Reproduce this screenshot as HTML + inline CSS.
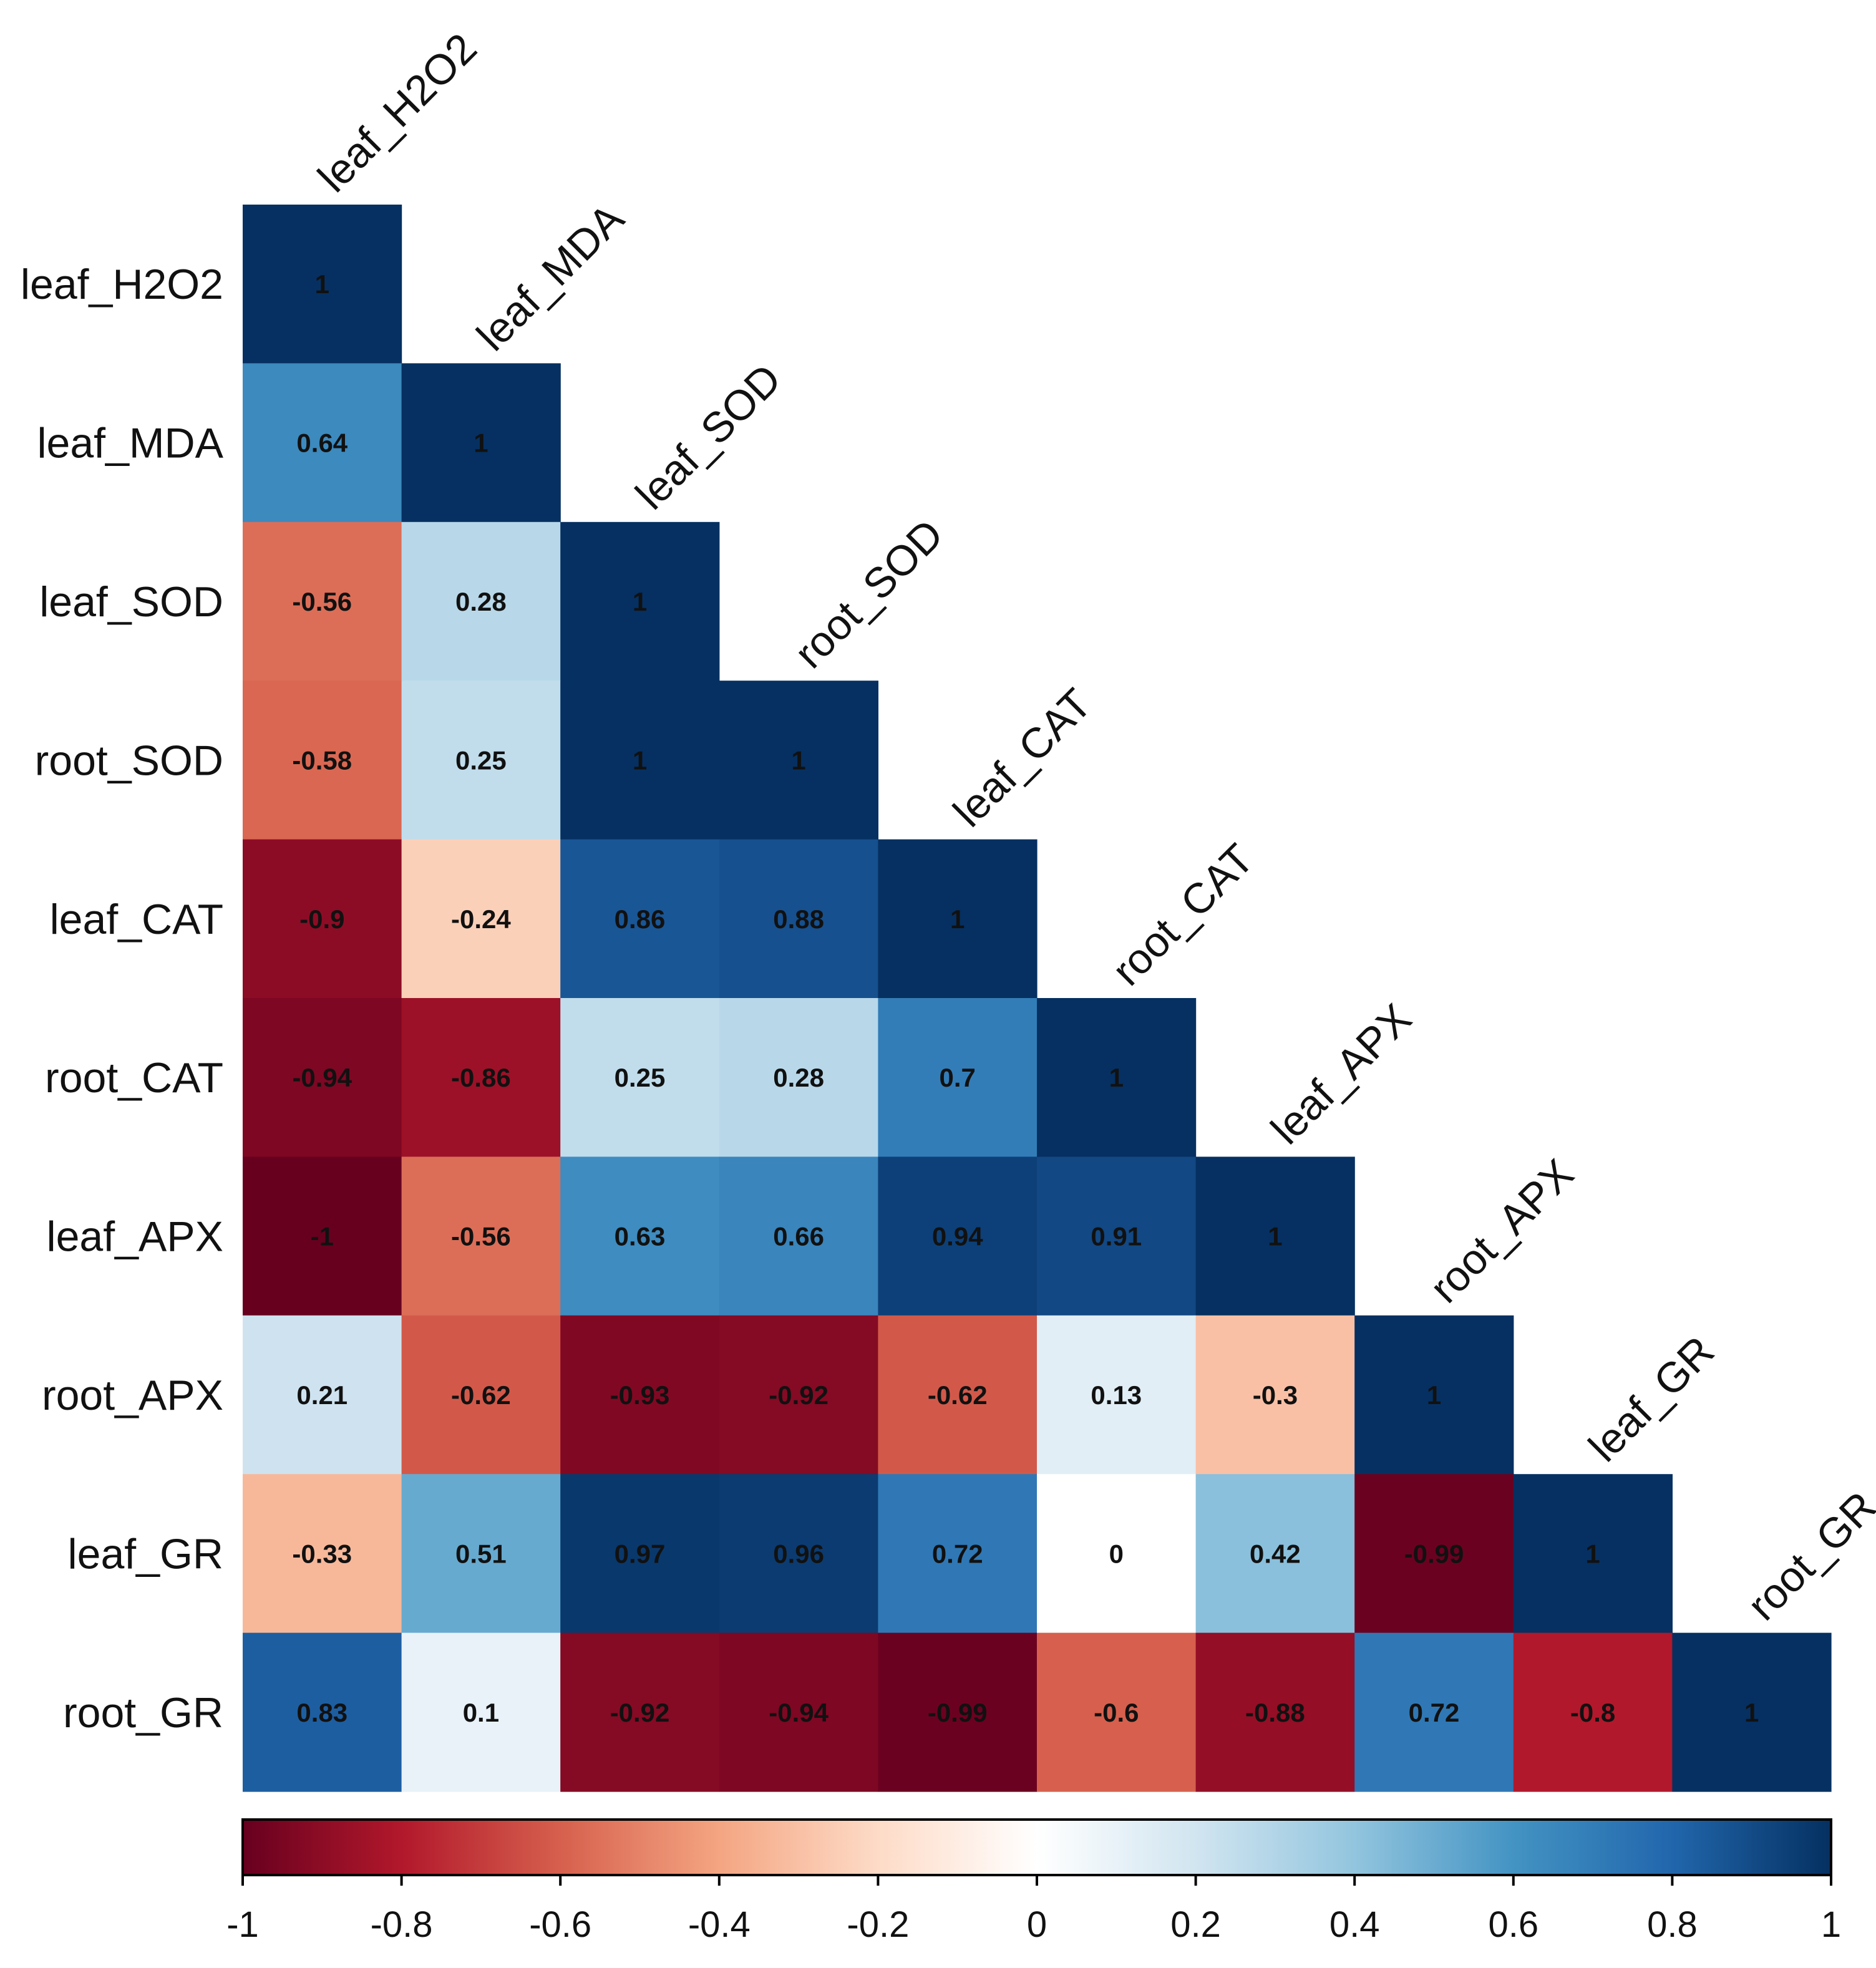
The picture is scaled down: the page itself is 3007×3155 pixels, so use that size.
<!DOCTYPE html>
<html><head><meta charset="utf-8"><style>
html,body{margin:0;padding:0;background:#fff;}
svg{display:block;font-family:"Liberation Sans",Arial,sans-serif;}
</style></head><body>
<svg id="chart" width="3007" height="3155" viewBox="0 0 3007 3155" xmlns="http://www.w3.org/2000/svg">
<defs><linearGradient id="cbgrad" x1="0" x2="1" y1="0" y2="0"></linearGradient></defs>
<g id="cells"></g><g id="rowlabels"></g><g id="collabels"></g><g id="colorbar"></g>
</svg>
<script>
const labels = ["leaf_H2O2","leaf_MDA","leaf_SOD","root_SOD","leaf_CAT","root_CAT","leaf_APX","root_APX","leaf_GR","root_GR"];
const row0 = [1];
const row1 = [0.64,1];
const row2 = [-0.56,0.28,1];
const row3 = [-0.58,0.25,1,1];
const row4 = [-0.9,-0.24,0.86,0.88,1];
const row5 = [-0.94,-0.86,0.25,0.28,0.7,1];
const row6 = [-1,-0.56,0.63,0.66,0.94,0.91,1];
const row7 = [0.21,-0.62,-0.93,-0.92,-0.62,0.13,-0.3,1];
const row8 = [-0.33,0.51,0.97,0.96,0.72,0,0.42,-0.99,1];
const row9 = [0.83,0.1,-0.92,-0.94,-0.99,-0.6,-0.88,0.72,-0.8,1];
const rows = [row0,row1,row2,row3,row4,row5,row6,row7,row8,row9];
const ticks = [-1,-0.8,-0.6,-0.4,-0.2,0,0.2,0.4,0.6,0.8,1];
const tickLabels = ["-1","-0.8","-0.6","-0.4","-0.2","0","0.2","0.4","0.6","0.8","1"];

const NS="http://www.w3.org/2000/svg";
const pal=["#67001F","#B2182B","#D6604D","#F4A582","#FDDBC7","#FFFFFF","#D1E5F0","#92C5DE","#4393C3","#2166AC","#053061"];
function hex(h){return [1,3,5].map(i=>parseInt(h.substr(i,2),16));}
function color(v){
  let t=(v+1)/2*(pal.length-1); let i=Math.min(Math.floor(t),pal.length-2); let f=t-i;
  const a=hex(pal[i]),b=hex(pal[i+1]);
  return "rgb("+a.map((x,k)=>Math.round(x+(b[k]-x)*f)).join(",")+")";
}
const X0=389,Y0=328,CW=254.6,CH=254.4,n=labels.length;
const xs=i=>X0+i*CW, ys=j=>Y0+j*CH;
function el(tag,attrs,parent){const e=document.createElementNS(NS,tag);for(const k in attrs)e.setAttribute(k,attrs[k]);parent.appendChild(e);return e;}
const cells=document.getElementById('cells');
rows.forEach((r,j)=>{r.forEach((v,i)=>{
  const rc=el('rect',{x:xs(i),y:ys(j),width:CW+0.6,height:CH+0.6,fill:color(v)},cells);
  
  
  const t=el('text',{x:xs(i)+CW/2,y:ys(j)+CH/2+15,'text-anchor':'middle','font-size':42,'font-weight':'bold',fill:'#111'},cells);
  t.textContent=String(v);
  
  
});});
const rl=document.getElementById('rowlabels');
labels.forEach((l,j)=>{
  const t=el('text',{x:358,y:ys(j)+CH/2+24,'text-anchor':'end','font-size':68,fill:'#111'},rl);
  t.textContent=l;
  
  
});
const cl=document.getElementById('collabels');
labels.forEach((l,i)=>{
  const x=xs(i)+CW/2+22, y=ys(i)-16;
  const t=el('text',{x:x,y:y,'font-size':68,fill:'#111',transform:'rotate(-45 '+x+' '+y+')'},cl);
  t.textContent=l;
  
  
});
const grad=document.getElementById('cbgrad');
for(let k=0;k<=40;k++){const v=-1+k*0.05;el('stop',{offset:(k/40),'stop-color':color(v)},grad);}
const cb=document.getElementById('colorbar');
const CB0=389,CB1=2935,CBT=2917,CBB=3006;
const cx=v=>CB0+(v+1)/2*(CB1-CB0);
const bar=el('rect',{x:CB0,y:CBT,width:CB1-CB0,height:CBB-CBT,fill:'url(#cbgrad)',stroke:'#000','stroke-width':4},cb);


ticks.forEach((v,k)=>{
  const ln=el('line',{x1:cx(v),x2:cx(v),y1:CBB,y2:CBB+17,stroke:'#000','stroke-width':4},cb);
  
  
  const t=el('text',{x:cx(v),y:3105,'text-anchor':'middle','font-size':58,fill:'#111'},cb);
  t.textContent=tickLabels[k];
  
  
});
</script>
</body></html>
